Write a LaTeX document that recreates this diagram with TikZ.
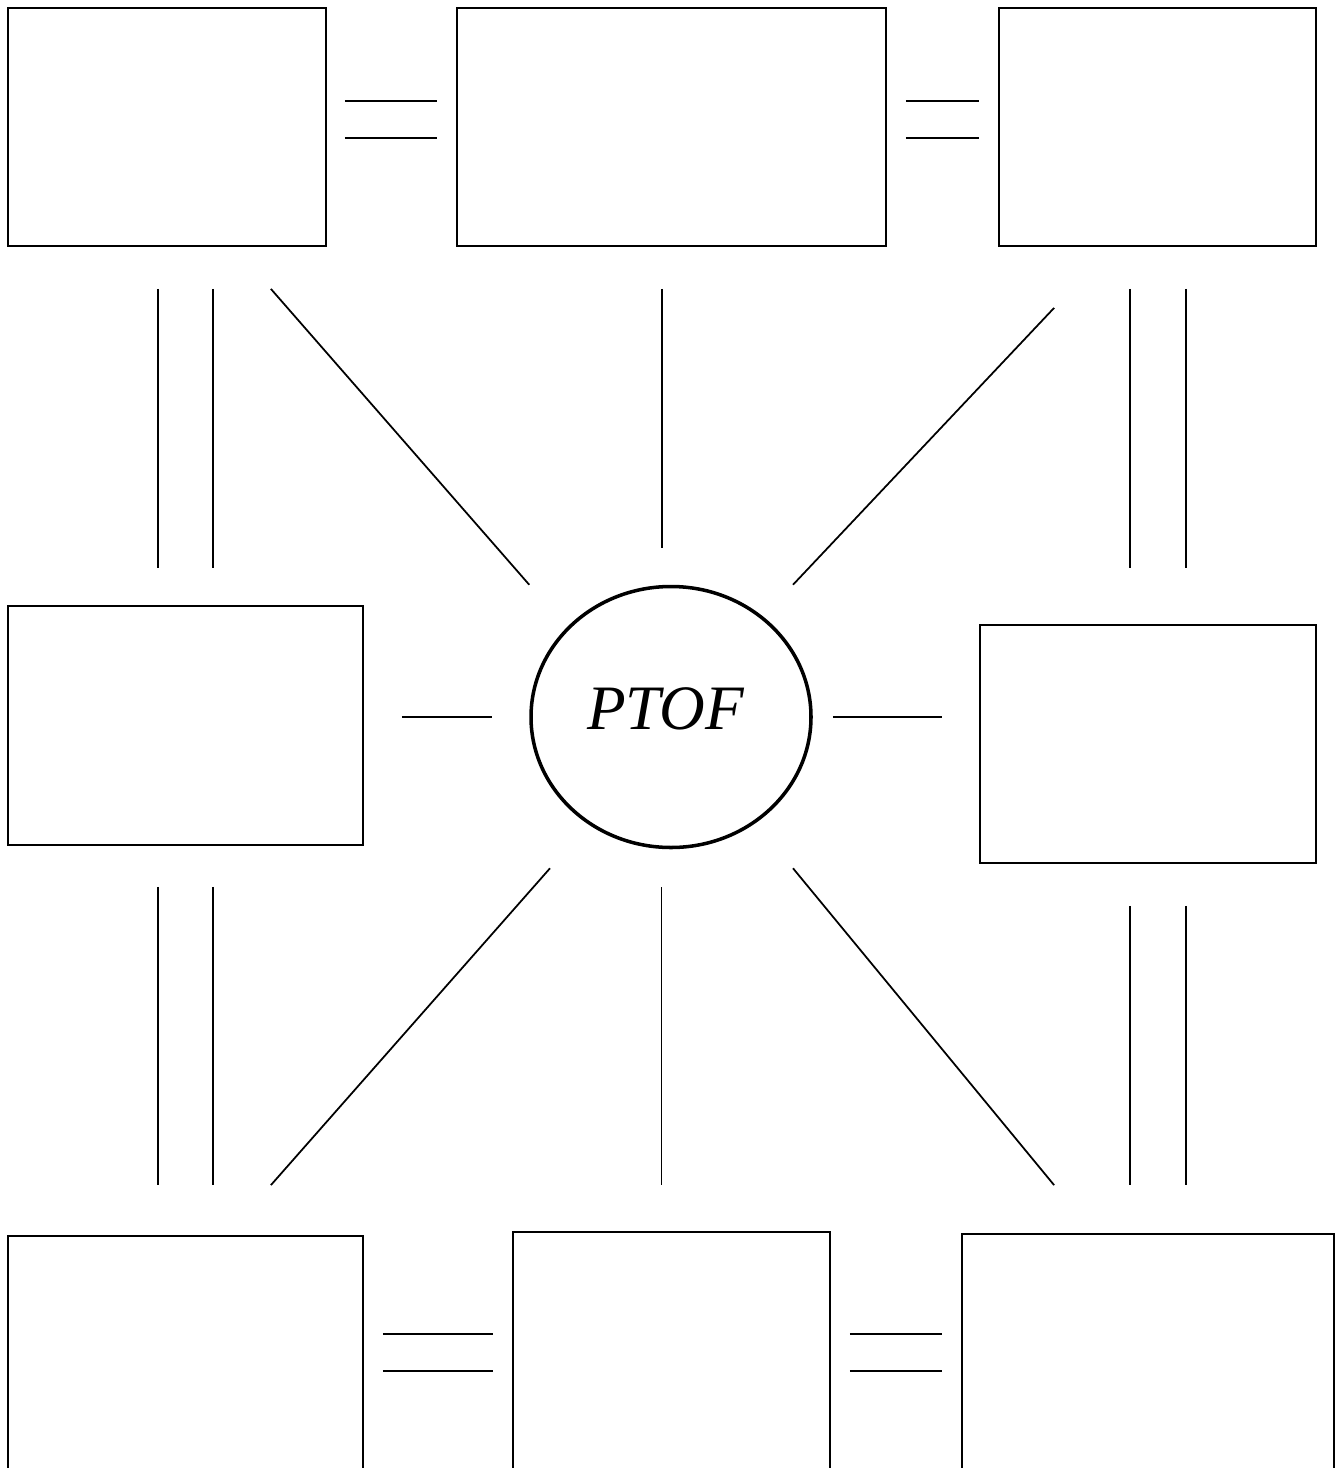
\documentclass[tikz,border=0pt]{standalone}
\usepackage{fontspec}
\setmainfont{Liberation Serif}
\usetikzlibrary{positioning, shapes, calc}

\begin{document}
\begin{tikzpicture}[x=0.1mm, y=-0.1mm,
    box/.style={draw, line width=0.5pt, inner sep=0pt},
    hub/.style={draw, ellipse, line width=1pt, inner sep=0pt, text depth=1.6mm,
        minimum width=28mm, minimum height=26.1mm, font=\fontsize{18}{20}\selectfont\itshape},
    link/.style={line width=0.5pt}]
        \useasboundingbox (0,0) rectangle (1337,1468);
        \clip (0,0) rectangle (1337,1468);

        % Nodes
        \node[box, minimum width=31.8mm, minimum height=23.8mm] (tl) at (167,127) {};
        \node[box, minimum width=42.9mm, minimum height=23.8mm] (tm) at (671.5,127) {};
        \node[box, minimum width=31.7mm, minimum height=23.8mm] (tr) at (1157.5,127) {};
        \node[box, minimum width=35.5mm, minimum height=23.9mm] (ml) at (185.5,725.5) {};
        \node[box, minimum width=33.6mm, minimum height=23.8mm] (mr) at (1148,744) {};
        \node[box, minimum width=35.5mm, minimum height=36.4mm] (bl) at (185.5,1418) {};
        \node[box, minimum width=31.7mm, minimum height=36.8mm] (bm) at (671.5,1416) {};
        \node[box, minimum width=37.2mm, minimum height=36.6mm] (br) at (1148,1417) {};
        \node[hub] (pt) at (671,717) {\kern-1.1mm PTOF};

        % top row
        \draw[link, shorten <=1.8mm, shorten >=1.9mm] ([yshift=2.6mm]tl.east) -- ([yshift=2.6mm]tm.west);
        \draw[link, shorten <=1.8mm, shorten >=1.9mm] ([yshift=-1.1mm]tl.east) -- ([yshift=-1.1mm]tm.west);
        \draw[link, shorten <=1.9mm, shorten >=1.9mm] ([yshift=2.6mm]tm.east) -- ([yshift=2.6mm]tr.west);
        \draw[link, shorten <=1.9mm, shorten >=1.9mm] ([yshift=-1.1mm]tm.east) -- ([yshift=-1.1mm]tr.west);

        % upper half
        \draw[link, shorten <=4.2mm, shorten >=3.7mm] ([xshift=-0.9mm]tl.south) -- ([xshift=-0.9mm]tl.south |- ml.north);
        \draw[link, shorten <=4.2mm, shorten >=3.7mm] ([xshift=4.6mm]tl.south) -- ([xshift=4.6mm]tl.south |- ml.north);
        \draw[link] ([xshift=-5.6mm, yshift=-4.2mm]tl.south east) -- (pt.west |- pt.north);
        \draw[link, shorten <=4.2mm, shorten >=3.7mm] ([xshift=-0.95mm]tm.south) -- ([xshift=-0.95mm]tm.south |- pt.north);
        \draw[link] ([xshift=5.6mm, yshift=-6.1mm]tr.south west) -- ([xshift=12.2mm]pt.north);
        \draw[link, shorten <=4.2mm, shorten >=5.6mm] ([xshift=-2.75mm]tr.south) -- ([xshift=-2.75mm]tr.south |- mr.north);
        \draw[link, shorten <=4.2mm, shorten >=5.6mm] ([xshift=2.85mm]tr.south) -- ([xshift=2.85mm]tr.south |- mr.north);

        % middle row
        \draw[link, shorten <=3.8mm, shorten >=3.7mm] (ml.east |- pt.west) -- (pt.west);
        \draw[link, shorten <=2mm, shorten >=3.7mm] (pt.east) -- (pt.east -| mr.west);

        % lower half
        \draw[link, shorten <=4.1mm, shorten >=5mm] ([xshift=-2.75mm]ml.south) -- ([xshift=-2.75mm]ml.south |- bl.north);
        \draw[link, shorten <=4.1mm, shorten >=5mm] ([xshift=2.75mm]ml.south) -- ([xshift=2.75mm]ml.south |- bl.north);
        \draw[link] ([xshift=-12.1mm, yshift=-1.9mm]pt.south) -- ([xshift=-9.3mm, yshift=5mm]bl.north east);
        \draw[link, shorten <=3.8mm, shorten >=4.6mm] ([xshift=-0.95mm]pt.south) -- ([xshift=-0.95mm]pt.south |- bm.north);
        \draw[link] ([xshift=12.2mm, yshift=-1.9mm]pt.south) -- ([xshift=9.3mm, yshift=4.8mm]br.north west);
        \draw[link, shorten <=4.2mm, shorten >=4.8mm] ([xshift=-1.8mm]mr.south) -- ([xshift=-1.8mm]mr.south |- br.north);
        \draw[link, shorten <=4.2mm, shorten >=4.8mm] ([xshift=3.8mm]mr.south) -- ([xshift=3.8mm]mr.south |- br.north);

        % bottom row
        \draw[link, shorten <=1.9mm, shorten >=1.9mm] ([yshift=-9.9mm]bl.north east) -- ([yshift=-9.9mm]bl.north east -| bm.west);
        \draw[link, shorten <=1.9mm, shorten >=1.9mm] ([yshift=-13.6mm]bl.north east) -- ([yshift=-13.6mm]bl.north east -| bm.west);
        \draw[link, shorten <=1.9mm, shorten >=1.9mm] ([yshift=-10.3mm]bm.north east) -- ([yshift=-10.3mm]bm.north east -| br.west);
        \draw[link, shorten <=1.9mm, shorten >=1.9mm] ([yshift=-14mm]bm.north east) -- ([yshift=-14mm]bm.north east -| br.west);
\end{tikzpicture}
\end{document}
